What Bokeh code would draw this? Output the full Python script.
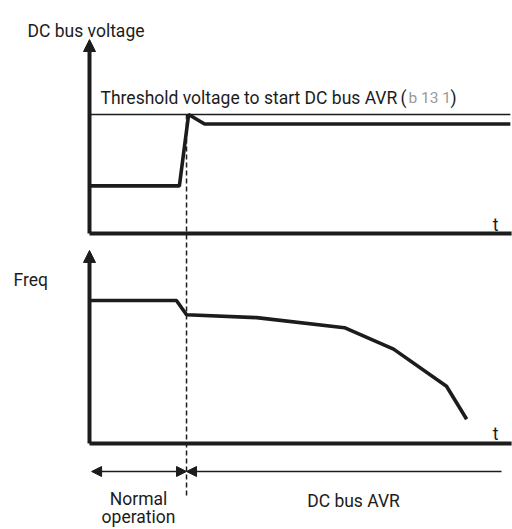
from bokeh.plotting import figure
from bokeh.models import Range1d, Label, Arrow, NormalHead
from bokeh.embed import file_html
from bokeh.resources import INLINE

# ---------------- data (time in arbitrary units, values in % of threshold / max freq)
t_volt = [0.0, 2.14, 2.36, 2.74, 10.02]
volt = [40, 40, 100, 92, 92]
threshold = 100
t_freq = [0.0, 2.07, 2.31, 3.98, 6.07, 7.24, 8.50, 8.98]
freq = [100, 100, 90, 88, 81, 66, 40, 17]
t_event = 2.31          # start of DC bus AVR
t_end = 10.05           # end of time axes
t_span_end = 9.81       # end of the "DC bus AVR" span arrow
volt_axis_top = 163
freq_axis_top = 135

# ---------------- layout (reference pixel geometry)
W, H = 512, 529
OFF = 0
T0_PX, PX_PER_T = 89, 42.0
V0_PX, PX_PER_V = 233, 1.19
F0_PX, PX_PER_F = 443, 1.43

def v_of(py):
    return (V0_PX - py) / PX_PER_V

FONT = "Roboto"
FS = "17.5px"
INK = "#1c1c1c"

p = figure(width=W, height=H, output_backend="svg", toolbar_location=None,
           x_axis_type=None, y_axis_type=None,
           x_range=Range1d((OFF - T0_PX) / PX_PER_T, (OFF + W - T0_PX) / PX_PER_T),
           y_range=Range1d(v_of(OFF + H), v_of(OFF)))
p.extra_x_ranges = {"px": Range1d(OFF, OFF + W)}
p.extra_y_ranges = {
    "px": Range1d(OFF + H, OFF),
    "freq": Range1d((F0_PX - OFF - H) / PX_PER_F, (F0_PX - OFF) / PX_PER_F),
}
p.min_border = 0
p.outline_line_color = None
p.grid.visible = False
p.background_fill_color = "white"
p.border_fill_color = "white"

# ---------------- top panel: DC bus voltage
p.line([0, t_end], [0, 0], line_width=4, line_color=INK)
p.add_layout(Arrow(end=NormalHead(size=12, fill_color=INK, line_color=INK),
                   x_start=0, y_start=0, x_end=0, y_end=volt_axis_top,
                   line_width=4, line_color=INK))
p.line([0, t_volt[-1]], [threshold, threshold], line_width=1.6, line_color=INK)
p.line(t_volt, volt, line_width=3.6, line_color=INK)

# dashed event line
p.line([t_event, t_event], [threshold, v_of(497)], line_width=1.5,
       line_color=INK, line_dash="5 3")

# ---------------- bottom panel: frequency
p.line([0, t_end], [0, 0], line_width=4, line_color=INK, y_range_name="freq")
p.add_layout(Arrow(end=NormalHead(size=12, fill_color=INK, line_color=INK),
                   x_start=0, y_start=0, x_end=0, y_end=freq_axis_top,
                   line_width=4, line_color=INK, y_range_name="freq"))
p.line(t_freq, freq, line_width=3.6, line_color=INK, y_range_name="freq")

# ---------------- span arrows
p.add_layout(Arrow(start=NormalHead(size=10, fill_color=INK, line_color=INK),
                   end=NormalHead(size=10, fill_color=INK, line_color=INK),
                   x_start=0.05, y_start=471, x_end=t_event, y_end=471,
                   line_width=1.6, line_color=INK, y_range_name="px"))
p.add_layout(Arrow(start=NormalHead(size=10, fill_color=INK, line_color=INK),
                   end=None,
                   x_start=t_event, y_start=471, x_end=t_span_end, y_end=471,
                   line_width=1.6, line_color=INK, y_range_name="px"))

# ---------------- texts
def lab(x, y, s, align="left", color=INK, size=FS, style="normal"):
    p.add_layout(Label(x=x, y=y, text=s, x_range_name="px", y_range_name="px",
                       text_font=FONT, text_font_size=size, text_color=color,
                       text_align=align, text_baseline="alphabetic",
                       text_font_style=style))

lab(27, 30, "DC bus voltage")
lab(100, 97, "Threshold voltage to start DC bus AVR")
lab(400, 97, "(")
lab(408, 97, "b 13 1", color="#999999", size="15.5px")
lab(450, 97, ")")
lab(495, 224, "t", align="center")
lab(13, 279, "Freq")
lab(495, 433, "t", align="center")
lab(138, 498, "Normal", align="center")
lab(138, 516, "operation", align="center")
lab(353, 500, "DC bus AVR", align="center")

open("out.html", "w").write(file_html(p, INLINE))
